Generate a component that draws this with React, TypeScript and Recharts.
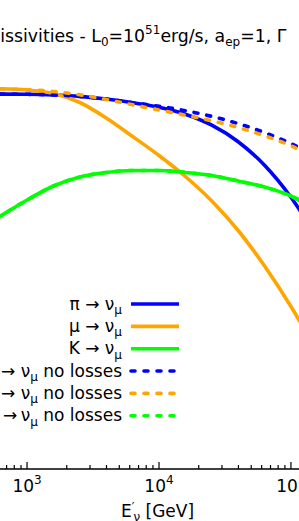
import React from 'react';
import { LineChart, Line, XAxis, YAxis, Legend } from 'recharts';

// log10 of E'nu in GeV, sampled every 0.2 dex
const logE = [2.6, 2.8, 3.0, 3.2, 3.4, 3.6, 3.8, 4.0, 4.2, 4.4, 4.6, 4.8, 5.0, 5.2];

// emissivities, arbitrary log units
const piLoss = [3.75, 3.749, 3.747, 3.74, 3.726, 3.7, 3.663, 3.618, 3.548, 3.438, 3.273, 3.038, 2.718, 2.308];
const muLoss = [3.805, 3.802, 3.79, 3.755, 3.665, 3.51, 3.325, 3.135, 2.925, 2.68, 2.385, 2.03, 1.625, 1.17];
const kLoss = [2.37, 2.53, 2.69, 2.83, 2.92, 2.965, 2.985, 2.985, 2.965, 2.935, 2.88, 2.82, 2.73, 2.57];
const piNoLoss = [3.75, 3.749, 3.747, 3.74, 3.726, 3.7, 3.663, 3.628, 3.583, 3.526, 3.454, 3.364, 3.254, 3.114];
const muNoLoss = [3.805, 3.801, 3.793, 3.775, 3.742, 3.695, 3.642, 3.59, 3.538, 3.482, 3.415, 3.332, 3.232, 3.1];
const kNoLoss = [2.37, 2.53, 2.69, 2.83, 2.92, 2.965, 2.985, 2.985, 2.965, 2.935, 2.88, 2.82, 2.73, 2.6];

// tick positions (GeV): minor + major
const tickEnergies = [700, 800, 900, 1e3, 2e3, 3e3, 4e3, 5e3, 6e3, 7e3, 8e3, 9e3, 1e4, 2e4, 3e4, 4e4, 5e4, 6e4, 7e4, 8e4, 9e4, 1e5];

const legendHeads = ['π → ν', 'μ → ν', 'K → ν', 'π → ν', 'μ → ν', 'K →\u2009ν'];
const legendTails = ['', '', '', ' no losses', ' no losses', ' no losses'];

const FONT = 'DejaVu Sans';
const BLUE = '#0000ff';
const ORANGE = '#ffa500';
const GREEN = '#00ff00';
const DASH = '4 9';
const LW = 3.6;

const toPoints = (vals: number[]) => logE.map((e, i) => ({ e, v: vals[i] }));

const series = [
  { name: 'pi', vals: piLoss, color: BLUE, dash: undefined },
  { name: 'mu', vals: muLoss, color: ORANGE, dash: undefined },
  { name: 'K', vals: kLoss, color: GREEN, dash: undefined },
  { name: 'pi no losses', vals: piNoLoss, color: BLUE, dash: DASH },
  { name: 'mu no losses', vals: muNoLoss, color: ORANGE, dash: DASH },
  { name: 'K no losses', vals: kNoLoss, color: GREEN, dash: DASH },
];

const xDomain: [number, number] = [2.795, 5.061];
const ticks = tickEnergies.map((t) => Math.log10(t));
const isMajor = (v: number) => Math.abs(v - Math.round(v)) < 1e-9;

const BottomTick = (props: any) => {
  const { x, y, payload } = props;
  const major = isMajor(payload.value);
  return (
    <g>
      <line x1={x} x2={x} y1={y} y2={y - (major ? 7 : 4)} stroke='#000' strokeWidth={1.2} />
      {major && (
        <text x={x} y={y + 22.7} textAnchor='middle' fontSize={17} fontFamily={FONT} fill='#000'>
          10
          <tspan dy={-7.5} fontSize={12}>
            {Math.round(payload.value)}
          </tspan>
        </text>
      )}
    </g>
  );
};

const TopTick = (props: any) => {
  const { x, y, payload } = props;
  const major = isMajor(payload.value);
  return <line x1={x} x2={x} y1={y} y2={y + (major ? 7 : 4)} stroke='#000' strokeWidth={1.2} />;
};

// matplotlib-style legend: label right-aligned, swatch on the right
const renderLegend = () => (
  <svg width={280} height={140} style={{ display: 'block' }}>
    {series.map((s, i) => {
      const ly = 14 + i * 22.35;
      return (
        <g key={s.name}>
          <text x={202} y={ly + 5.5} textAnchor='end' fontSize={17} fontFamily={FONT} fill='#000'>
            {legendHeads[i]}
            <tspan dy={4.5} fontSize={12}>
              μ
            </tspan>
            <tspan dy={-4.5} fontSize={17}>
              {legendTails[i]}
            </tspan>
          </text>
          <line
            x1={211}
            x2={259}
            y1={ly}
            y2={ly}
            stroke={s.color}
            strokeWidth={LW}
            strokeDasharray={s.dash}
            strokeLinecap={s.dash ? 'round' : 'butt'}
          />
        </g>
      );
    })}
  </svg>
);

export default function App() {
  return (
    <div style={{ position: 'absolute', left: 0, top: 0, width: 299, height: 521, overflow: 'hidden', background: '#fff' }}>
      <LineChart width={299} height={521} margin={{ top: 51, right: 0, bottom: 0, left: 0 }}>
        <XAxis
          xAxisId='top'
          orientation='top'
          type='number'
          dataKey='e'
          domain={xDomain}
          allowDataOverflow
          ticks={ticks}
          interval={0}
          height={0}
          tickSize={0}
          tickMargin={0}
          tickLine={false}
          tick={<TopTick />}
          axisLine={{ stroke: '#000', strokeWidth: 1.5 }}
        />
        <XAxis
          type='number'
          dataKey='e'
          domain={xDomain}
          allowDataOverflow
          ticks={ticks}
          interval={0}
          height={52}
          tickSize={0}
          tickMargin={0}
          tickLine={false}
          tick={<BottomTick />}
          axisLine={{ stroke: '#000', strokeWidth: 1.5 }}
        />
        <YAxis hide type='number' domain={[0, 4.18]} allowDataOverflow />
        {series.map((s) => (
          <Line
            key={s.name}
            name={s.name}
            data={toPoints(s.vals)}
            dataKey='v'
            type='monotone'
            stroke={s.color}
            strokeWidth={LW}
            strokeDasharray={s.dash}
            strokeLinecap={s.dash ? 'round' : 'butt'}
            dot={false}
            activeDot={false}
            isAnimationActive={false}
          />
        ))}
        <Legend
          layout='vertical'
          align='center'
          verticalAlign='middle'
          content={renderLegend}
          wrapperStyle={{ left: -80, top: 290, width: 280, height: 140 }}
        />
      </LineChart>
      <svg width={299} height={521} style={{ position: 'absolute', left: 0, top: 0, pointerEvents: 'none' }}>
        <text x={-27.5} y={41.7} fontSize={17.3} fontFamily={FONT} fill='#000'>
          Emissivities - L
          <tspan dy={4} fontSize={12}>0</tspan>
          <tspan dy={-4} fontSize={17.3}>=10</tspan>
          <tspan dy={-7.5} fontSize={12}>51</tspan>
          <tspan dy={7.5} fontSize={17.3}>erg/s, a</tspan>
          <tspan dy={4} fontSize={12}>ep</tspan>
          <tspan dy={-4} fontSize={17.3}>=1, Γ</tspan>
        </text>
        <text x={157.5} y={516.7} textAnchor='middle' fontSize={17} fontFamily={FONT} fill='#000'>
          E
          <tspan dy={-6} fontSize={12}>′</tspan>
          <tspan dx={-1} dy={10} fontSize={12}>ν</tspan>
          <tspan dy={-4} fontSize={17}> [GeV]</tspan>
        </text>
      </svg>
    </div>
  );
}
